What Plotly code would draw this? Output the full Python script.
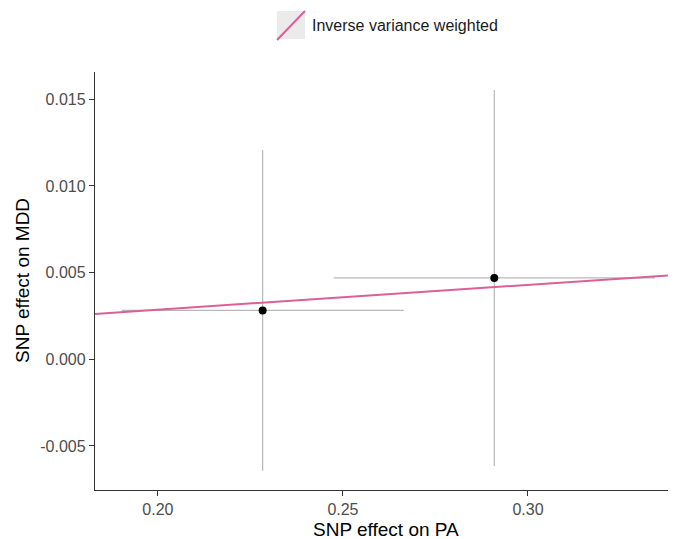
import plotly.graph_objects as go

# SNP-level data
snp_beta_exposure = [0.2283, 0.2909]      # SNP effect on PA
snp_se_exposure = [0.0381, 0.0434]
snp_beta_outcome = [0.00282, 0.00469]     # SNP effect on MDD
snp_se_outcome = [0.00925, 0.01084]

# MR estimate (inverse variance weighted, line through origin)
method_names = ["Inverse variance weighted"]
method_slopes = [0.0143]

x_range = [0.183, 0.340]
y_range = [-0.00754, 0.01657]
x_ticks = [0.20, 0.25, 0.30]
x_ticklabels = ["0.20", "0.25", "0.30"]
y_ticks = [-0.005, 0.0, 0.005, 0.010, 0.015]
y_ticklabels = ["-0.005", "0.000", "0.005", "0.010", "0.015"]
x_title = "SNP effect on PA"
y_title = "SNP effect on MDD"

FONT = "Liberation Sans, Arial, Helvetica, sans-serif"
PINK = "#dc5f98"
ERR = "#b8b8b8"

# the page body adds an 8px margin, so the figure is sized to fill the rest
OFF = 8
W, H = 676 - OFF, 539 - OFF
ML, MR, MT, MB = 95 - OFF, 0, 72 - OFF, 49
PW, PH = W - ML - MR, H - MT - MB


def px_x(x):
    return (x - OFF - ML) / PW


def px_y(y):
    return (H - MB - (y - OFF)) / PH


fig = go.Figure()

# error bars
fig.add_trace(go.Scatter(
    x=snp_beta_exposure, y=snp_beta_outcome, mode="markers",
    marker=dict(size=0.1, color="rgba(0,0,0,0)"),
    error_x=dict(type="data", array=snp_se_exposure, color=ERR, thickness=1.2, width=0),
    error_y=dict(type="data", array=snp_se_outcome, color=ERR, thickness=1.2, width=0),
    showlegend=False, hoverinfo="skip"))

# IVW line
for name, b in zip(method_names, method_slopes):
    fig.add_trace(go.Scatter(
        x=x_range, y=[b * v for v in x_range], mode="lines",
        line=dict(color=PINK, width=2), name=name, showlegend=False))

# points
fig.add_trace(go.Scatter(
    x=snp_beta_exposure, y=snp_beta_outcome, mode="markers",
    marker=dict(size=8, color="black"), showlegend=False))

# ggplot-style legend at top (key box with diagonal line + label)
fig.add_shape(type="rect", xref="paper", yref="paper",
              x0=px_x(277), x1=px_x(305), y0=px_y(39), y1=px_y(11),
              fillcolor="#ebebeb", line=dict(width=0))
fig.add_shape(type="line", xref="paper", yref="paper",
              x0=px_x(277), x1=px_x(305), y0=px_y(40), y1=px_y(11),
              line=dict(color=PINK, width=2))
fig.add_annotation(text=method_names[0], xref="paper", yref="paper",
                   x=px_x(310), y=px_y(26),
                   xanchor="left", yanchor="middle", showarrow=False,
                   font=dict(family=FONT, size=16, color="#1a1a1a"))

# axis titles
fig.add_annotation(text=x_title, xref="paper", yref="paper",
                   x=0.5, y=px_y(529), xanchor="center", yanchor="middle",
                   showarrow=False, font=dict(family=FONT, size=19, color="black"))
fig.add_annotation(text=y_title, xref="paper", yref="paper",
                   x=px_x(22), y=0.5, xanchor="center", yanchor="middle",
                   textangle=-90, showarrow=False,
                   font=dict(family=FONT, size=19, color="black"))

axis_common = dict(showgrid=False, zeroline=False, showline=True,
                   linecolor="#333333", linewidth=1.3, ticks="outside",
                   ticklen=5, tickwidth=1.3, tickcolor="#333333",
                   automargin=False,
                   tickfont=dict(family=FONT, size=16, color="#4d4d4d"))

fig.update_layout(
    width=W, height=H,
    margin=dict(l=ML, r=MR, t=MT, b=MB, autoexpand=False),
    paper_bgcolor="white", plot_bgcolor="white",
    xaxis=dict(range=x_range, tickvals=x_ticks, ticktext=x_ticklabels, **axis_common),
    yaxis=dict(range=y_range, tickvals=y_ticks, ticktext=y_ticklabels, **axis_common),
)

fig.write_html("out.html")
